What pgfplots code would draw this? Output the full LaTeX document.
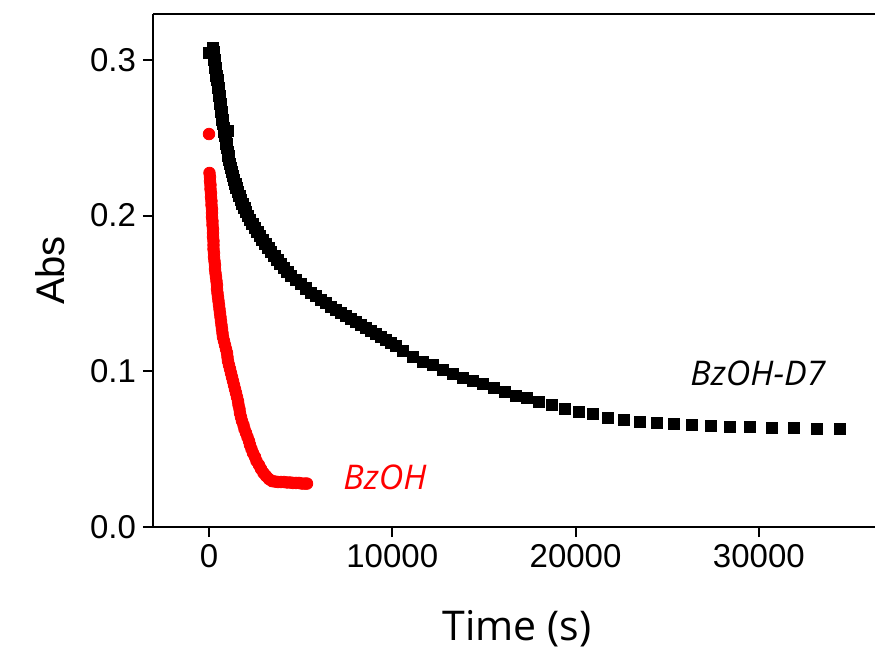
\documentclass[border=0pt]{standalone}
\usepackage{pgfplots}
\pgfplotsset{compat=1.18}
\usepackage{fontspec}
\setmainfont{Liberation Sans}
\newfontfamily\osans{Open Sans}
\definecolor{pured}{RGB}{255,0,0}
\begin{document}
\begin{tikzpicture}
\begin{axis}[
 scale only axis,
 width=361pt, height=256.5pt,
 xmin=-3055, xmax=36337, ymin=0, ymax=0.3295,
 axis lines*=left,
 axis line style={line width=1pt},
 tick align=outside,
 major tick length=5pt,
 every tick/.style={line width=1pt, black},
 xtick={0,10000,20000,30000},
 ytick={0,0.1,0.2,0.3},
 scaled x ticks=false,
 scaled y ticks=false,
 /pgf/number format/1000 sep={},
 y tick label style={/pgf/number format/fixed, /pgf/number format/fixed zerofill, /pgf/number format/precision=1},
 /pgf/number format/assume math mode=true,
 ticklabel style={font=\fontsize{16.5}{19}\selectfont},
 xlabel={Time (s)}, ylabel={Abs},
 every axis x label/.style={at={(rel axis cs:0.504,-0.221)}, anchor=base, font=\osans\fontsize{20.5}{24}\selectfont},
 every axis y label/.style={at={(rel axis cs:-0.1427,0.5)}, rotate=90, anchor=center, font=\fontsize{20}{24}\selectfont},
 clip=false,
]
\addplot[only marks, mark=square*, mark size=2.8pt, black] coordinates {
(0,0.3044) (218,0.3076) (246,0.3051) (273,0.3025) (300,0.2999) (327,0.2974) (355,0.2948)
(382,0.2922) (409,0.2897) (464,0.2871) (491,0.2845) (518,0.2820) (546,0.2794) (573,0.2768)
(600,0.2742) (627,0.2717) (655,0.2691) (682,0.2665) (709,0.2640) (737,0.2614) (764,0.2588)
(818,0.2563) (846,0.2537) (873,0.2511) (1050,0.2543) (928,0.2486) (955,0.2460) (982,0.2434)
(1037,0.2408) (1064,0.2383) (1091,0.2357) (1146,0.2331) (1200,0.2306) (1255,0.2280)
(1309,0.2254) (1364,0.2229) (1446,0.2203) (1500,0.2177) (1582,0.2152) (1664,0.2126)
(1746,0.2100) (1828,0.2075) (1937,0.2049) (2019,0.2023) (2128,0.1997) (2237,0.1972)
(2373,0.1946) (2510,0.1920) (2646,0.1895) (2783,0.1869) (2919,0.1843) (3083,0.1818)
(3246,0.1792) (3383,0.1766) (3574,0.1741) (3737,0.1715) (3901,0.1689) (4092,0.1663)
(4283,0.1638) (4474,0.1612) (4747,0.1586) (5020,0.1561) (5292,0.1532) (5565,0.1506)
(5838,0.1484) (6111,0.1461) (6384,0.1439) (6656,0.1416) (6929,0.1397) (7202,0.1374)
(7475,0.1355) (7748,0.1336) (8020,0.1317) (8293,0.1297) (8566,0.1278) (8839,0.1259)
(9112,0.1240) (9384,0.1220) (9657,0.1201) (9930,0.1182) (10203,0.1162)
(10585,0.1130) (11130,0.1092) (11676,0.1060) (12221,0.1040) (12767,0.1008)
(13313,0.0983) (13858,0.0957) (14404,0.0938) (14950,0.0918) (15550,0.0893) (16150,0.0867)
(16750,0.0841) (17350,0.0829) (18005,0.0803) (18714,0.0784) (19423,0.0758) (20187,0.0739)
(20951,0.0726) (21770,0.0700) (22643,0.0687) (23516,0.0674) (24443,0.0668) (25370,0.0661)
(26352,0.0655) (27389,0.0649) (28426,0.0642) (29517,0.0642) (30717,0.0636) (31918,0.0636)
(33173,0.0630) (34428,0.0629)
};
\addplot[only marks, mark=*, mark size=2.9pt, pured] coordinates {
(0,0.2524) (27,0.2274) (55,0.2248) (55,0.2222) (82,0.2197) (82,0.2171) (109,0.2145)
(109,0.2119) (136,0.2094) (136,0.2068) (164,0.2042) (164,0.2017) (164,0.1991)
(191,0.1965) (191,0.1940) (218,0.1914) (218,0.1888) (218,0.1863) (246,0.1837)
(246,0.1811) (246,0.1785) (273,0.1760) (273,0.1734) (300,0.1708) (327,0.1683)
(327,0.1657) (355,0.1631) (382,0.1606) (409,0.1580) (436,0.1554) (436,0.1529)
(464,0.1503) (491,0.1477) (518,0.1452) (546,0.1426) (573,0.1400) (600,0.1374)
(627,0.1349) (655,0.1323) (682,0.1297) (709,0.1272) (737,0.1246) (764,0.1220)
(818,0.1195) (873,0.1169) (928,0.1143) (982,0.1118) (1009,0.1092) (1037,0.1066)
(1091,0.1040) (1146,0.1015) (1200,0.0989) (1255,0.0963) (1309,0.0938) (1364,0.0912)
(1419,0.0886) (1473,0.0861) (1528,0.0835) (1582,0.0809) (1610,0.0784) (1664,0.0758)
(1691,0.0732) (1746,0.0706) (1800,0.0681) (1882,0.0655) (1937,0.0629) (2019,0.0604)
(2101,0.0578) (2182,0.0552) (2237,0.0527) (2319,0.0501) (2401,0.0475) (2510,0.0450)
(2592,0.0424) (2728,0.0398) (2837,0.0373) (2974,0.0347) (3110,0.0328) (3274,0.0308)
(3437,0.0295) (3601,0.0292) (3765,0.0289) (3928,0.0289) (4092,0.0289) (4256,0.0286)
(4419,0.0286) (4583,0.0283) (4747,0.0283) (4910,0.0283) (5074,0.0279) (5238,0.0279)
(5347,0.0279)
};
\node[anchor=base, text=pured, font=\osans\itshape\fontsize{17}{20}\selectfont] at (axis cs:9603,0.0244) {BzOH};
\node[anchor=base, text=black, font=\osans\itshape\fontsize{17}{20}\selectfont] at (axis cs:29953,0.0906) {BzOH-D7};
\draw[line width=1pt] (rel axis cs:0,1) -- (rel axis cs:1,1);
\draw[line width=1pt] (rel axis cs:0,0) -- ++(-5pt,0);
\coordinate (O) at (rel axis cs:0,0);
\end{axis}
\pgfresetboundingbox
\path ([shift={(-76.5pt,-61.5pt)}]O) rectangle ([shift={(361pt,263.5pt)}]O);
\end{tikzpicture}
\end{document}
